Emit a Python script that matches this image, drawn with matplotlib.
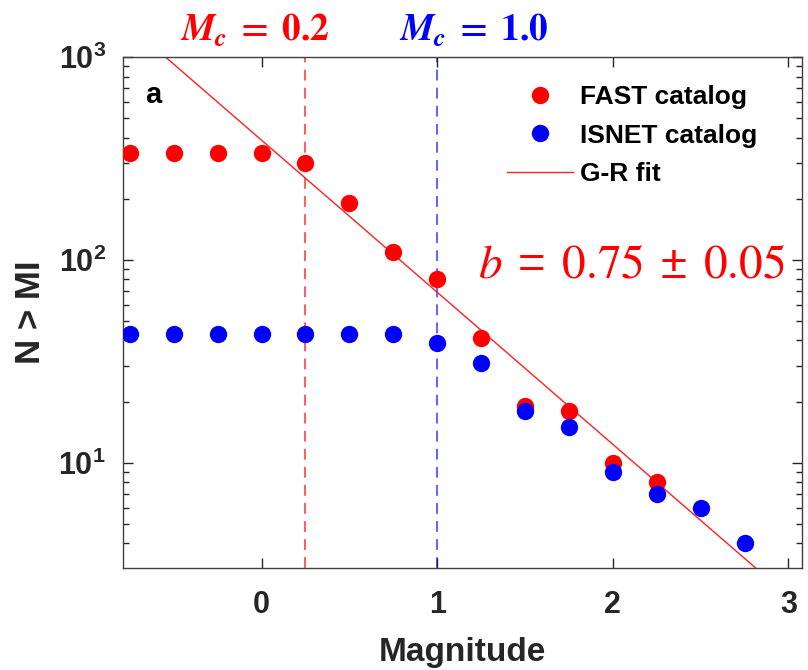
import numpy as np
import matplotlib
matplotlib.use('Agg')
import matplotlib.pyplot as plt
from matplotlib.ticker import LogLocator, FixedLocator

plt.rcParams['font.family'] = ['Liberation Sans', 'DejaVu Sans']
plt.rcParams['mathtext.default'] = 'regular'

# cumulative counts N > Ml
mag_fast = [-0.75, -0.5, -0.25, 0.0, 0.25, 0.5, 0.75, 1.0, 1.25, 1.5, 1.75, 2.0, 2.25]
n_fast = [338, 338, 338, 338, 301, 191, 109, 80, 41, 19, 18, 10, 8]
mag_isnet = [-0.75, -0.5, -0.25, 0.0, 0.25, 0.5, 0.75, 1.0, 1.25, 1.5, 1.75, 2.0, 2.25, 2.5, 2.75]
n_isnet = [43, 43, 43, 43, 43, 43, 43, 39, 31, 18, 15, 9, 7, 6, 4]

# G-R fit: log10 N = a - b*M
gr_a = 2.59
gr_b = 0.75
mc_fast = 0.25
mc_isnet = 1.0

dark = '#262626'

fig = plt.figure(figsize=(8.08, 6.70), dpi=100)
ax = fig.add_axes([0.1519, 0.1522, 0.8407, 0.7627])

m_fit = np.linspace(-1.0, 3.2, 50)
ax.plot(m_fit, 10 ** (gr_a - gr_b * m_fit), color='#ff2020', lw=1.0, label='G-R fit', zorder=2)

ax.plot(mag_fast, n_fast, 'o', color='#ff0000', ms=12.5, mec='none', label='FAST catalog', zorder=3)
ax.plot(mag_isnet, n_isnet, 'o', color='#0000ff', ms=12.5, mec='none', label='ISNET catalog', zorder=4)

ax.axvline(mc_fast, color='#ff5050', ls=(0, (6, 4)), lw=1.3, zorder=1)
ax.axvline(mc_isnet, color='#5555ff', ls=(0, (6, 4)), lw=1.3, zorder=1)

ax.set_yscale('log')
ax.set_xlim(-0.79, 3.077)
ax.set_ylim(3.02, 1000)
ax.xaxis.set_major_locator(FixedLocator([0, 1, 2, 3]))
ax.yaxis.set_major_locator(LogLocator(base=10))
ax.yaxis.set_minor_locator(LogLocator(base=10, subs=np.arange(2, 10)))

ax.tick_params(which='both', direction='in', top=True, right=True, colors=dark,
               labelsize=22, width=1.0)
ax.tick_params(which='major', length=7)
ax.tick_params(axis='x', which='major', pad=16)
ax.tick_params(axis='y', which='major', pad=12)
ax.tick_params(which='minor', length=4)
for lab in ax.get_xticklabels() + ax.get_yticklabels():
    lab.set_fontweight('bold')
for sp in ax.spines.values():
    sp.set_color('#404040')
    sp.set_linewidth(1.0)

ax.set_xlabel('Magnitude', fontsize=24, fontweight='bold', color=dark, labelpad=12)
ax.set_ylabel('N > MI', fontsize=25, fontweight='bold', color=dark, labelpad=8)

ax.text(0.045, 0.925, 'a', transform=ax.transAxes, fontsize=21, fontweight='bold',
        color='black', ha='center', va='center')

leg = ax.legend(handles=[ax.lines[1], ax.lines[2], ax.lines[0]], loc='upper left',
                bbox_to_anchor=(0.565, 0.945), frameon=False,
                prop={'size': 19, 'weight': 'bold'}, handlelength=2.5,
                handletextpad=0.3, labelspacing=0.55, borderpad=0, borderaxespad=0)

fig.text(0.782, 0.604, r'$\mathit{b}\;=\;\mathrm{0.75}\;\pm\;\mathrm{0.05}$', color='#ff0000',
         fontsize=34, ha='center', va='center', math_fontfamily='stix')
fig.text(0.3156, 0.955, r'$\mathbfit{M}_{\mathbfit{c}}\;\mathbf{=}\;\mathbf{0.2}$', color='#ff0000',
         fontsize=27, ha='center', va='center', math_fontfamily='stix')
fig.text(0.5866, 0.955, r'$\mathbfit{M}_{\mathbfit{c}}\;\mathbf{=}\;\mathbf{1.0}$', color='#0000ff',
         fontsize=27, ha='center', va='center', math_fontfamily='stix')

fig.savefig('out.png', dpi=100)
